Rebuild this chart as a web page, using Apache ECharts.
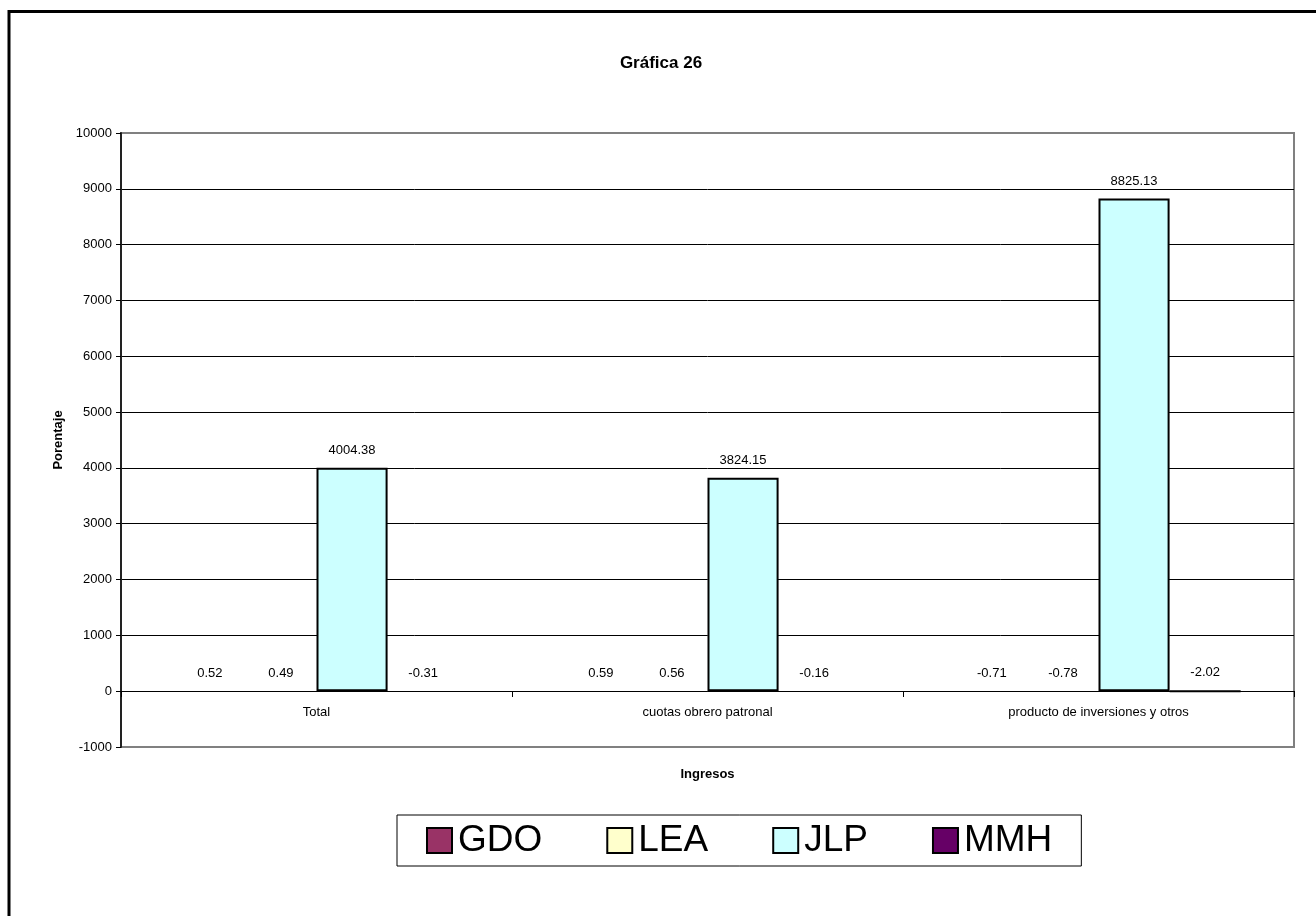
<!DOCTYPE html>
<html>
<head>
<meta charset="utf-8">
<title>Gráfica 26</title>
<script src="https://cdn.jsdelivr.net/npm/echarts@6/dist/echarts.min.js"></script>
<style>
  html, body { margin: 0; padding: 0; background: #fff; }
  #chart { width: 1316px; height: 916px; }
</style>
</head>
<body>
<div id="chart"></div>
<script>
// Categories and per-series values (percent change)
const categories = ['Total', 'cuotas obrero patronal', 'producto de inversiones y otros'];
const seriesNames = ['GDO', 'LEA', 'JLP', 'MMH'];
const gdoValues = [0.52, 0.59, -0.71];
const leaValues = [0.49, 0.56, -0.78];
const jlpValues = [4004.38, 3824.15, 8825.13];
const mmhValues = [-0.31, -0.16, -2.02];
const yTicks = { min: -1000, max: 10000, interval: 1000 };

const colors = ['#993366', '#FFFFCC', '#CCFFFF', '#660066'];
const FONT = 'Liberation Sans, Arial, sans-serif';

const label = {
  show: true,
  position: 'top',
  distance: 11,
  color: '#000',
  fontFamily: FONT,
  fontSize: 13,
  formatter: p => String(p.value)
};

function barSeries(name, values, color, bordered) {
  return {
    name: name,
    type: 'bar',
    barGap: '0%',
    barCategoryGap: '27.27%',
    data: values.map((v, i) => ({
      value: v,
      itemStyle: bordered(i) ? { borderColor: '#000', borderWidth: 2 } : { borderWidth: 0 }
    })),
    itemStyle: { color: color },
    label: label
  };
}

const chart = echarts.init(document.getElementById('chart'));
chart.setOption({
  backgroundColor: '#fff',
  animation: false,
  color: colors,
  title: {
    text: 'Gráfica 26',
    left: 656,
    top: 50,
    textAlign: 'center',
    textStyle: { fontFamily: FONT, fontSize: 17, fontWeight: 'bold', color: '#000' }
  },
  grid: {
    left: 121, top: 133, right: 22, bottom: 169,
    show: true, borderColor: '#808080', borderWidth: 2,
    containLabel: false
  },
  legend: {
    data: seriesNames,
    left: 397,
    top: 815,
    padding: [7, 29, 7, 29],
    itemGap: 64,
    itemWidth: 25,
    itemHeight: 25,
    icon: 'rect',
    borderColor: '#000',
    borderWidth: 1,
    borderRadius: 0,
    itemStyle: { borderColor: '#000', borderWidth: 2 },
    textStyle: { fontFamily: FONT, fontSize: 37, color: '#000', padding: [0, 0, 0, 1] }
  },
  xAxis: {
    type: 'category',
    data: categories,
    // axis sits on the zero line: grid bottom (-1000) is 1000 units below it
    offset: -56,
    name: 'Ingresos',
    nameLocation: 'middle',
    nameGap: 77,
    nameTextStyle: { fontFamily: FONT, fontSize: 13, fontWeight: 'bold', color: '#000' },
    axisLine: { onZero: false, lineStyle: { color: '#000', width: 1 } },
    axisTick: { show: true, length: 6, lineStyle: { color: '#000' } },
    axisLabel: { fontFamily: FONT, fontSize: 13, color: '#000', margin: 15 },
    splitLine: { show: false }
  },
  yAxis: {
    type: 'value',
    min: yTicks.min,
    max: yTicks.max,
    interval: yTicks.interval,
    name: 'Porentaje',
    nameLocation: 'middle',
    nameGap: 55,
    nameRotate: 90,
    nameTextStyle: { fontFamily: FONT, fontSize: 13, fontWeight: 'bold', color: '#000' },
    axisLine: { show: true, lineStyle: { color: '#222', width: 2 } },
    axisTick: { show: true, length: 5, lineStyle: { color: '#000' } },
    axisLabel: { fontFamily: FONT, fontSize: 13, color: '#000', margin: 9, formatter: v => String(v) },
    splitLine: { show: true, showMaxLine: false, showMinLine: false, lineStyle: { color: '#000', width: 1 } }
  },
  series: [
    barSeries('GDO', gdoValues, colors[0], () => false),
    barSeries('LEA', leaValues, colors[1], () => false),
    barSeries('JLP', jlpValues, colors[2], () => true),
    barSeries('MMH', mmhValues, colors[3], i => i === 2)
  ],
  graphic: [{
    type: 'rect',
    silent: true,
    z: 100,
    shape: { x: 9, y: 11.5, width: 1400, height: 1000 },
    style: { fill: 'none', stroke: '#000', lineWidth: 3 }
  }]
});
</script>
</body>
</html>
